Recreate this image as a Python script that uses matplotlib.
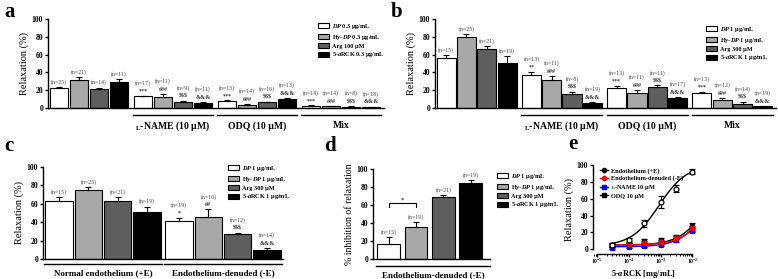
import numpy as np
import matplotlib
matplotlib.use('Agg')
import matplotlib.pyplot as plt
from matplotlib.patches import Patch
from matplotlib.lines import Line2D
from matplotlib.ticker import LogLocator, NullFormatter

plt.rcParams['font.family'] = 'Liberation Serif'
plt.rcParams['font.weight'] = 'bold'
plt.rcParams['mathtext.fontset'] = 'custom'
plt.rcParams['mathtext.rm'] = 'Liberation Serif:bold'
plt.rcParams['mathtext.it'] = 'Liberation Serif:italic:bold'
plt.rcParams['mathtext.bf'] = 'Liberation Serif:bold'
plt.rcParams['axes.linewidth'] = 1.0

# ---------------- data ----------------
colors = ['white', '#a8a8a8', '#5e5e5e', 'black']

# panel a (groups: control, L-NAME, ODQ, Mix)
a_dp = [22, 13, 7.5, 2.2]
a_dp_err = [2, 1, 1, 0.7]
a_hy = [32, 12, 3.4, 2.0]
a_hy_err = [3, 3.5, 1, 0.6]
a_arg = [21, 7, 6.3, 1.5]
a_arg_err = [2, 1, 1, 0.5]
a_rck = [29, 6, 10.4, 1.2]
a_rck_err = [3.5, 0.8, 1.2, 0.4]
a_n = [[25, 21, 14, 11], [17, 11, 9, 11], [13, 14, 10, 13], [14, 14, 8, 18]]
a_sym = [['', '', '', ''], ['***', '###', '$$$', '&&&'],
         ['***', '###', '$$$', '&&&'], ['***', '###', '$$$', '&&&']]
a_labels = [r'$\it{DP}$ 0.3 μg/mL', r'Hy-$\it{DP}$ 0.3 μg/mL', 'Arg 100 μM',
            r'5-$\it{a}$RCK 0.3 μg/mL']

# panel b
b_dp = [56, 37, 23, 16.4]
b_dp_err = [4, 4, 2, 2]
b_hy = [79.5, 31, 17, 9.3]
b_hy_err = [3.5, 5, 3.5, 2]
b_arg = [66, 16, 23.5, 4]
b_arg_err = [4, 2, 2, 2.7]
b_rck = [51, 5.6, 10.8, 1.9]
b_rck_err = [7, 1, 1.5, 0.7]
b_n = [[15, 25, 21, 19], [13, 11, 8, 19], [13, 11, 11, 17], [13, 12, 14, 19]]
b_sym = [['', '', '', ''], ['**', '###', '$$$', '&&&'],
         ['***', '###', '$$$', '&&&'], ['***', '###', '$$$', '&&&']]
b_labels = [r'$\it{DP}$ 1 μg/mL', r'Hy-$\it{DP}$ 1 μg/mL', 'Arg 300 μM',
            r'5-$\it{a}$RCK 1 μg/mL']

group_names = ['', r'$_{\rm L}$-NAME (10 μM)', 'ODQ (10 μM)', 'Mix']

# panel c
c_dp = [63, 41]
c_dp_err = [4, 4]
c_hy = [75, 46]
c_hy_err = [3, 8]
c_arg = [63, 27]
c_arg_err = [4, 1.5]
c_rck = [51, 10]
c_rck_err = [6, 2]
c_n = [[15, 25, 21, 19], [19, 10, 12, 14]]
c_sym = [['', '', '', ''], ['*', '##', '$$$', '&&&']]
c_groups = ['Normal endothelium (+E)', 'Endothelium-denuded (-E)']

# panel d
d_vals = [17, 36, 69, 85]
d_err = [7, 5, 2, 3]
d_n = [15, 19, 21, 19]

# panel e
e_x = [3e-5, 1e-4, 3e-4, 1e-3, 3e-3, 1e-2]
e_plus = [5, 11, 31, 56, 72, 92]
e_plus_err = [2, 3, 4, 7, 4, 3]
e_den = [5, 6, 8, 9, 14, 25]
e_den_err = [1, 1, 2, 2, 2, 3]
e_lname = [2, 3, 4, 5, 11, 22]
e_lname_err = [1, 1, 1, 1, 2, 2]
e_odq = [5, 7, 10, 11, 15, 28]
e_odq_err = [2, 2, 2, 2, 2, 3]
# fitted sigmoid parameters (bottom, top, logEC50, hill)
e_fit_plus = (4, 100, -3.05, 1.0)
e_fit_den = (5, 100, -1.4, 1.0)
e_fit_lname = (3, 100, -1.45, 1.0)
e_fit_odq = (5, 100, -1.5, 1.0)
e_labels = ['Endothelium (+E)', 'Endothelium-denuded (-E)',
            r'$_{\rm L}$-NAME 10 μM', 'ODQ 10 μM']

# ---------------- figure ----------------
W, H = 778, 279
fig = plt.figure(figsize=(W / 100, H / 100), dpi=100)


def px_axes(x0, y0, x1, y1):
    return fig.add_axes([x0 / W, 1 - y1 / H, (x1 - x0) / W, (y1 - y0) / H])


def style_axes(ax, ylabel, ylsize=7.5):
    ax.spines['top'].set_visible(False)
    ax.spines['right'].set_visible(False)
    ax.set_ylim(0, 100)
    ax.set_yticks([0, 20, 40, 60, 80, 100])
    ax.tick_params(axis='y', length=2.5, width=1, labelsize=5.5, pad=1)
    ax.tick_params(axis='x', length=0, labelbottom=False)
    ax.set_ylabel(ylabel, fontsize=ylsize, labelpad=2)


def bar_groups(ax, vals, errs, ns, syms, pitch=4.2, width=0.94):
    ngroups = len(vals[0])
    for s in range(4):
        xs = [g * pitch + s + 0.55 for g in range(ngroups)]
        ax.bar(xs, vals[s], width, color=colors[s], edgecolor='black',
               linewidth=0.8, zorder=2)
        ax.errorbar(xs, vals[s], yerr=[np.zeros(ngroups), errs[s]], fmt='none',
                    ecolor='black', elinewidth=0.8, capsize=2, capthick=0.8,
                    zorder=3)
        for g in range(ngroups):
            top = vals[s][g] + errs[s][g]
            off = 1.5
            if syms[g][s]:
                ax.annotate(syms[g][s], (xs[g], top), xytext=(0, 1.5),
                            textcoords='offset points', ha='center',
                            va='bottom', fontsize=4.3, parse_math=False,
                            color='#333333', annotation_clip=False)
                off = 7
            ax.annotate('(n=%d)' % ns[g][s], (xs[g], top), xytext=(0, off),
                        textcoords='offset points', ha='center', va='bottom',
                        fontsize=4.2, fontweight='normal', color='#444444',
                        annotation_clip=False)


def group_line(ax, x0, x1, label, yl, yt, fs=7):
    tr = ax.get_xaxis_transform()
    ax.plot([x0, x1], [yl, yl], transform=tr, clip_on=False, color='black', lw=1)
    ax.text((x0 + x1) / 2, yt, label, transform=tr, ha='center', va='center',
            fontsize=fs)


def bar_legend(labels, x, y):
    handles = [Patch(facecolor=c, edgecolor='black', linewidth=0.8) for c in colors]
    fig.legend(handles, labels, loc='upper left', bbox_to_anchor=(x / W, 1 - y / H),
               fontsize=4.5, frameon=False, handlelength=1.7, handleheight=0.85,
               labelspacing=0.25, handletextpad=0.6, borderaxespad=0, borderpad=0)


# panel a
ax_a = px_axes(48, 19, 384, 108)
style_axes(ax_a, 'Relaxation (%)')
bar_groups(ax_a, [a_dp, a_hy, a_arg, a_rck],
           [a_dp_err, a_hy_err, a_arg_err, a_rck_err], a_n, a_sym)
ax_a.set_xlim(0, 16.8)
for g in range(1, 4):
    group_line(ax_a, g * 4.2 + 0.05, g * 4.2 + 4.05, group_names[g], -0.08, -0.2)
bar_legend(a_labels, 318, 22)

# panel b
ax_b = px_axes(435, 19, 776, 108)
style_axes(ax_b, 'Relaxation (%)')
bar_groups(ax_b, [b_dp, b_hy, b_arg, b_rck],
           [b_dp_err, b_hy_err, b_arg_err, b_rck_err], b_n, b_sym)
ax_b.set_xlim(0, 16.8)
for g in range(1, 4):
    group_line(ax_b, g * 4.2 + 0.05, g * 4.2 + 4.05, group_names[g], -0.08, -0.2)
bar_legend(b_labels, 706, 25)

# panel c
ax_c = px_axes(43, 167, 283, 259)
style_axes(ax_c, 'Relaxation (%)')
bar_groups(ax_c, [c_dp, c_hy, c_arg, c_rck],
           [c_dp_err, c_hy_err, c_arg_err, c_rck_err], c_n, c_sym,
           pitch=4.1)
ax_c.set_xlim(0, 8.2)
for g in range(2):
    group_line(ax_c, g * 4.1 + 0.05, g * 4.1 + 4.05, c_groups[g], -0.05, -0.15,
               fs=6.5)
bar_legend(b_labels, 228, 164)

# panel d
ax_d = px_axes(373, 169, 490, 259)
style_axes(ax_d, '% inhibition of relaxation', ylsize=7)
xd = np.arange(4)
ax_d.bar(xd, d_vals, 0.83, color=colors, edgecolor='black', linewidth=0.8, zorder=2)
ax_d.errorbar(xd, d_vals, yerr=[np.zeros(4), d_err], fmt='none', ecolor='black',
              elinewidth=0.8, capsize=2, capthick=0.8, zorder=3)
for i in range(4):
    ax_d.annotate('(n=%d)' % d_n[i], (xd[i], d_vals[i] + d_err[i]), xytext=(0, 1.5),
                  textcoords='offset points', ha='center', va='bottom',
                  fontsize=4.2, fontweight='normal', color='#444444')
ax_d.plot([0, 0, 1, 1], [58, 62, 62, 58], color='black', lw=0.8)
ax_d.text(0.5, 63, '*', ha='center', va='bottom', fontsize=5, fontweight='normal')
ax_d.set_xlim(-0.57, 3.7)
group_line(ax_d, -0.45, 3.7, 'Endothelium-denuded (-E)', -0.08, -0.18, fs=6.5)
bar_legend(b_labels, 497, 172)

# panel e
ax_e = px_axes(593, 165, 693, 254)


def hill(x, p):
    b, t, ec, h = p
    return b + (t - b) / (1 + 10 ** ((ec - np.log10(x)) * h))


xs = np.logspace(np.log10(e_x[0]), np.log10(e_x[-1]), 200)
series = [(e_plus, e_plus_err, e_fit_plus, 'black', 'o', 'white'),
          (e_den, e_den_err, e_fit_den, 'red', 'o', 'red'),
          (e_lname, e_lname_err, e_fit_lname, 'blue', 's', 'blue'),
          (e_odq, e_odq_err, e_fit_odq, 'black', 's', 'black')]
for vals, errs, fit, col, mk, fc in series[::-1]:
    ax_e.plot(xs, hill(xs, fit), color=col, lw=1.0, zorder=2)
    ax_e.errorbar(e_x, vals, yerr=errs, fmt=mk, color='black', mfc=fc,
                  mec='black' if col == 'black' else col, ms=3.5, mew=0.9,
                  elinewidth=0.8, capsize=2, capthick=0.8, zorder=3, clip_on=False)
ax_e.set_xscale('log')
ax_e.set_xlim(10 ** -5.13, 10 ** -1.98)
ax_e.set_ylim(-5.5, 100)
ax_e.spines['top'].set_visible(False)
ax_e.spines['right'].set_visible(False)
ax_e.spines['left'].set_bounds(0, 100)
ax_e.spines['bottom'].set_bounds(1e-5, 1e-2)
ax_e.set_yticks([0, 20, 40, 60, 80, 100])
ax_e.set_xticks([1e-5, 1e-4, 1e-3, 1e-2])
ax_e.xaxis.set_minor_locator(LogLocator(base=10, subs=np.arange(2, 10)))
ax_e.xaxis.set_minor_formatter(NullFormatter())
ax_e.tick_params(axis='y', length=2.5, width=1, labelsize=5.5, pad=1)
ax_e.tick_params(axis='x', length=2, width=1, labelsize=4, pad=0.3)
ax_e.tick_params(axis='x', which='minor', length=1.3, width=0.7)
ax_e.set_ylabel('Relaxation (%)', fontsize=7.5, labelpad=2)
fig.text(643 / W, 1 - 273.5 / H, r'5-$\it{a}$RCK [mg/mL]', fontsize=6,
         ha='center', va='center')
e_handles = [Line2D([], [], color=s[3], marker=s[4], mfc=s[3], mec=s[3], ms=3, lw=1)
             for s in series]
fig.legend(e_handles, e_labels, loc='upper left', bbox_to_anchor=(600 / W, 1 - 168 / H),
           fontsize=4.5, frameon=False, handlelength=1.3, labelspacing=0.25,
           handletextpad=0.5, borderaxespad=0, borderpad=0)

# panel letters
for lt, x, y in [('a', 4, 12), ('b', 391, 12), ('c', 4, 146), ('d', 324, 146),
                 ('e', 568, 144)]:
    fig.text(x / W, 1 - y / H, lt, fontsize=15, fontweight='bold', va='center',
             ha='left')

fig.savefig('out.png', dpi=100)
